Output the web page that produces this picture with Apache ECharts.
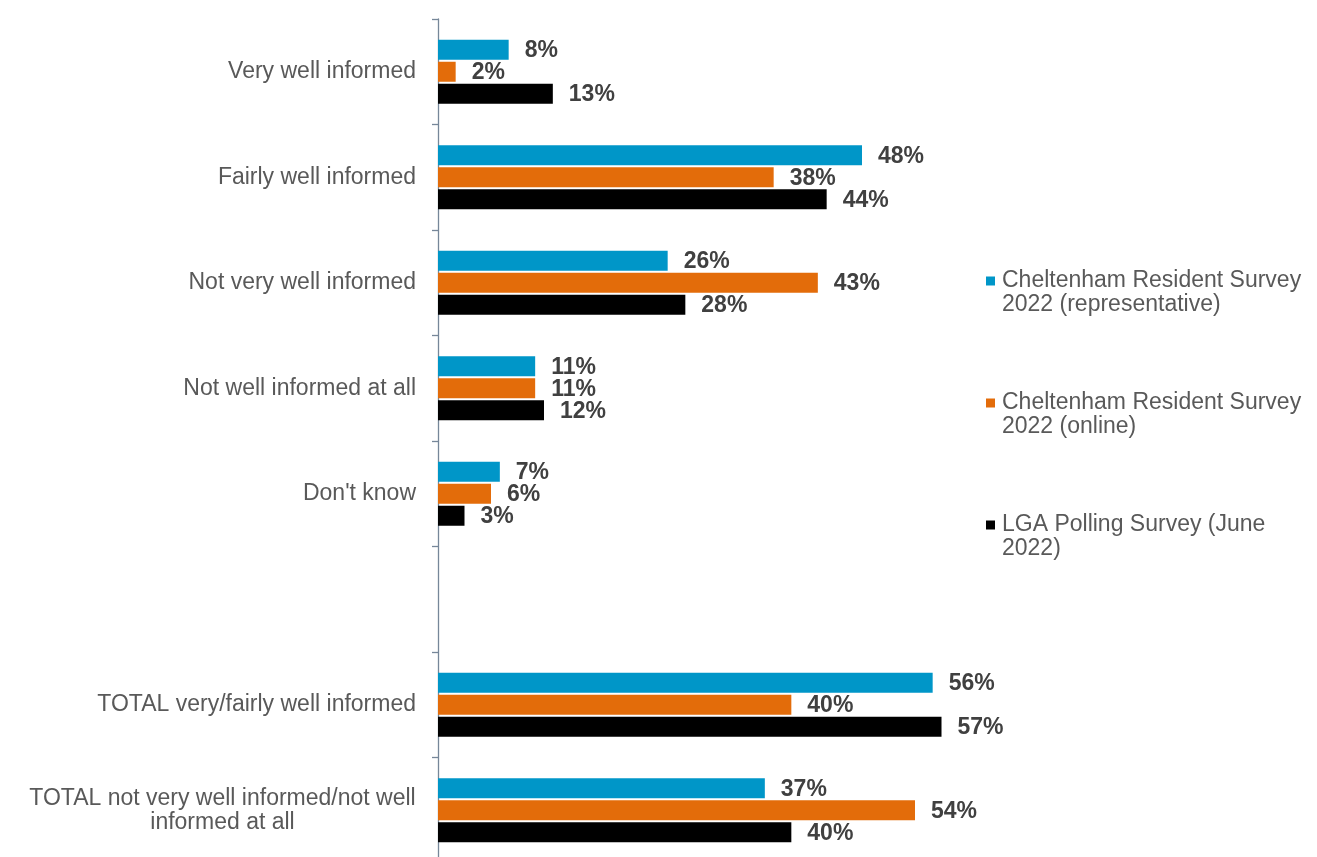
<!DOCTYPE html>
<html>
<head>
<meta charset="utf-8">
<script src="https://cdn.jsdelivr.net/npm/echarts@6/dist/echarts.min.js"></script>
<style>
  html, body { margin: 0; padding: 0; background: #ffffff; }
  #chart { width: 1317px; height: 857px; }
</style>
</head>
<body>
<div id="chart"></div>
<script>
// Categories, top to bottom (empty slot separates the totals)
const categories = [
  'Very well informed',
  'Fairly well informed',
  'Not very well informed',
  'Not well informed at all',
  "Don't know",
  '',
  'TOTAL very/fairly well informed',
  'TOTAL not very well informed/not well\ninformed at all'
];

const seriesNames = [
  'Cheltenham Resident Survey 2022 (representative)',
  'Cheltenham Resident Survey 2022 (online)',
  'LGA Polling Survey (June 2022)'
];

const legendLines = [
  ['Cheltenham Resident Survey', '2022 (representative)'],
  ['Cheltenham Resident Survey', '2022 (online)'],
  ['LGA Polling Survey (June', '2022)']
];

// Percentages per category
const representative = [8, 48, 26, 11, 7, null, 56, 37];
const online         = [2, 38, 43, 11, 6, null, 40, 54];
const lga            = [13, 44, 28, 12, 3, null, 57, 40];

const colors = ['#0096c8', '#e36c0a', '#000000'];

const FONT = '"Liberation Sans", Arial, sans-serif';
const SIZE = 23;

// Width of the longest line of a wrapped label, so its lines can be centred on each other
function lineWidth(text) {
  const ctx = document.createElement('canvas').getContext('2d');
  ctx.font = SIZE + 'px ' + FONT;
  return Math.ceil(Math.max.apply(null, text.split('\n').map(t => ctx.measureText(t).width)));
}
const wrapped = categories.filter(c => c.indexOf('\n') >= 0);
const wrapWidth = wrapped.length ? lineWidth(wrapped[0]) : 0;

const chart = echarts.init(document.getElementById('chart'), null, { renderer: 'canvas' });

const seriesData = [representative, online, lga];

chart.setOption({
  animation: false,
  backgroundColor: '#ffffff',
  textStyle: { fontFamily: FONT },
  grid: { left: 438, top: 19, width: 530, height: 844, outerBoundsMode: 'none', containLabel: false },
  xAxis: { type: 'value', min: 0, max: 60, show: false },
  yAxis: {
    type: 'category',
    inverse: true,
    data: categories,
    axisLine: { show: true, lineStyle: { color: '#768799', width: 1.3 } },
    axisTick: { show: true, length: 6, lineStyle: { color: '#768799', width: 1.3 } },
    splitLine: { show: false },
    axisLabel: {
      margin: 22,
      color: '#595959',
      fontSize: SIZE,
      lineHeight: 24,
      formatter: v => v.indexOf('\n') >= 0 ? '{c|' + v + '}' : v,
      rich: {
        c: { width: wrapWidth, align: 'center', fontSize: SIZE, lineHeight: 24, color: '#595959' }
      }
    }
  },
  legend: {
    orient: 'vertical',
    left: 981,
    top: 240,
    itemWidth: 9,
    itemHeight: 9,
    itemGap: 50,
    icon: 'rect',
    selectedMode: false,
    data: seriesNames,
    // leading blank line keeps the first text line level with the marker
    formatter: name => '\n' + legendLines[seriesNames.indexOf(name)].join('\n'),
    textStyle: {
      color: '#595959',
      fontSize: SIZE,
      lineHeight: 24,
      padding: [0, 0, 0, 2]
    }
  },
  series: seriesNames.map((name, i) => ({
    name: name,
    type: 'bar',
    data: seriesData[i],
    barWidth: 20,
    barGap: '10%',
    itemStyle: { color: colors[i] },
    label: {
      show: true,
      position: 'right',
      distance: 16,
      offset: [0, 1],
      color: '#404040',
      fontWeight: 'bold',
      fontSize: SIZE,
      formatter: p => p.value + '%'
    }
  }))
});
</script>
</body>
</html>
